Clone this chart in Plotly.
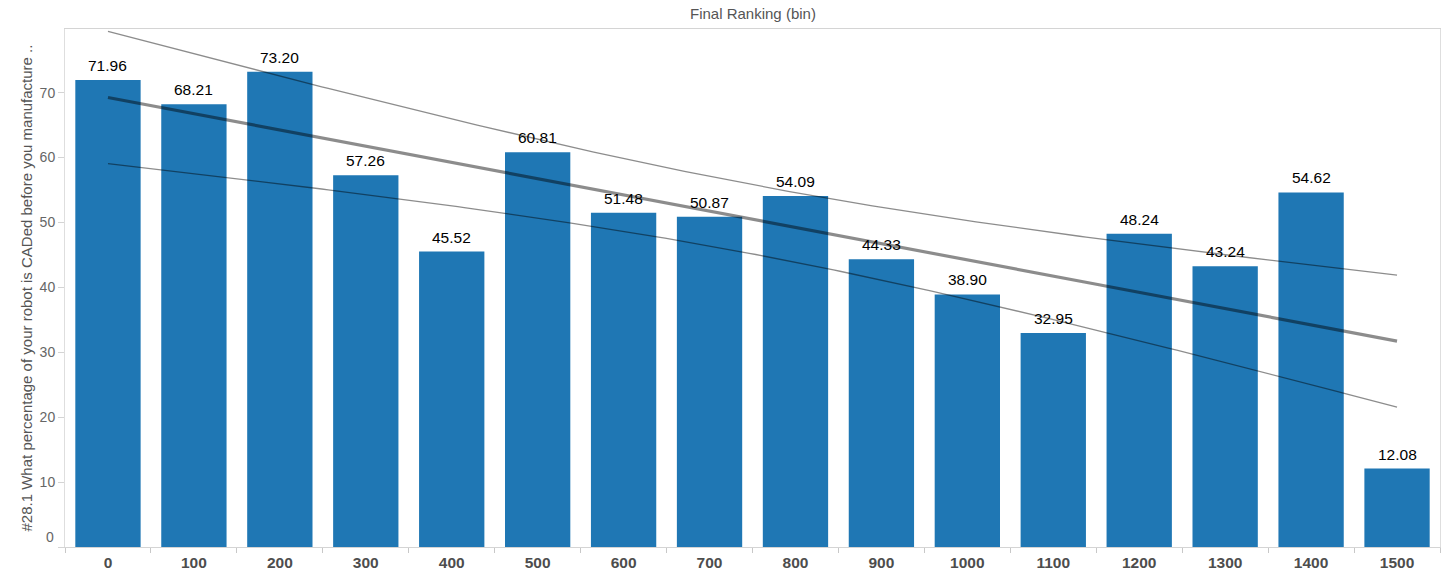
import numpy as np
import plotly.graph_objects as go

# ---- data ----
bins = ["0", "100", "200", "300", "400", "500", "600", "700", "800", "900",
        "1000", "1100", "1200", "1300", "1400", "1500"]
values = [71.96, 68.21, 73.20, 57.26, 45.52, 60.81, 51.48, 50.87, 54.09, 44.33,
          38.90, 32.95, 48.24, 43.24, 54.62, 12.08]
y_ticks = [0, 10, 20, 30, 40, 50, 60, 70]

header_title = "Final Ranking (bin)"
y_title = "#28.1 What percentage of your robot is CADed before you manufacture .."

# ---- linear trend with 95% confidence band (computed from the data) ----
pos = np.arange(len(values), dtype=float)
vals = np.array(values)
slope, intercept = np.polyfit(pos, vals, 1)
n = len(vals)
resid = vals - (slope * pos + intercept)
s = np.sqrt(np.sum(resid ** 2) / (n - 2))
sxx = np.sum((pos - pos.mean()) ** 2)
T95 = 2.1448  # t(0.975, df=14)
xs = np.linspace(pos.min(), pos.max(), 200)
fit = slope * xs + intercept
half = T95 * s * np.sqrt(1.0 / n + (xs - pos.mean()) ** 2 / sxx)

FONT = "Liberation Sans, Arial, sans-serif"

fig = go.Figure()
fig.add_trace(go.Bar(
    x=pos, y=values, width=0.76,
    marker=dict(color="#1f77b4", line=dict(width=0)),
    hoverinfo="skip",
))
for yy, w in [(fit + half, 1.3), (fit - half, 1.3), (fit, 3.2)]:
    fig.add_trace(go.Scatter(
        x=xs, y=yy, mode="lines",
        line=dict(color="rgba(0,0,0,0.45)", width=w),
        hoverinfo="skip",
    ))

annotations = [
    dict(text=header_title, xref="paper", yref="paper", x=0.5, y=1,
         yanchor="middle", yshift=16, showarrow=False,
         font=dict(family=FONT, size=15, color="#555555")),
    dict(text=y_title, xref="paper", yref="paper", x=0, y=0.5,
         xshift=-50, textangle=-90, showarrow=False,
         font=dict(family=FONT, size=15, color="#555555")),
    # Tableau lifts the bottom "0" tick label above the axis line
    dict(text=str(y_ticks[0]), xref="paper", yref="y", x=0, y=y_ticks[0],
         xanchor="right", yanchor="middle", xshift=-9, yshift=10,
         showarrow=False, font=dict(family=FONT, size=14, color="#666666")),
]
for p, v in zip(pos, values):
    annotations.append(dict(
        x=p, y=v, xref="x", yref="y", text=f"{v:.2f}", showarrow=False,
        yanchor="bottom", yshift=4,
        font=dict(family=FONT, size=15.5, color="#000000"),
    ))

fig.update_layout(
    width=1445, height=574,
    margin=dict(l=65, r=5, t=29, b=27, autoexpand=False),
    paper_bgcolor="white", plot_bgcolor="white",
    showlegend=False, bargap=0.24,
    font=dict(family=FONT, color="#555555"),
    xaxis=dict(
        automargin=False,
        range=[-0.5, 15.5], tickmode="array", tickvals=list(pos), ticktext=bins,
        ticks="", showgrid=False, zeroline=False,
        showline=True, linecolor="#d4d4d4", linewidth=1, mirror=True,
        tickfont=dict(family=FONT, size=15.5, color="#4d4d4d", weight="bold"),
        minor=dict(ticks="outside", tickvals=list(np.arange(-0.5, 16, 1.0)),
                   ticklen=5, tickcolor="#c8c8c8", tickwidth=1, showgrid=False),
        ticklabelstandoff=1,
    ),
    yaxis=dict(
        automargin=False,
        range=[0, 79.8], tickmode="array", tickvals=y_ticks,
        ticktext=[""] + [str(t) for t in y_ticks[1:]],
        ticks="outside", ticklen=6, tickcolor="#d4d4d4",
        showgrid=False, zeroline=False,
        showline=True, linecolor="#dedede", linewidth=1, mirror=True,
        tickfont=dict(family=FONT, size=14, color="#666666"),
    ),
    annotations=annotations,
)

fig.write_html(
    "out.html",
    config={"displayModeBar": False, "staticPlot": True},
    post_script="document.body.style.margin='0';document.body.style.overflow='hidden';",
)
